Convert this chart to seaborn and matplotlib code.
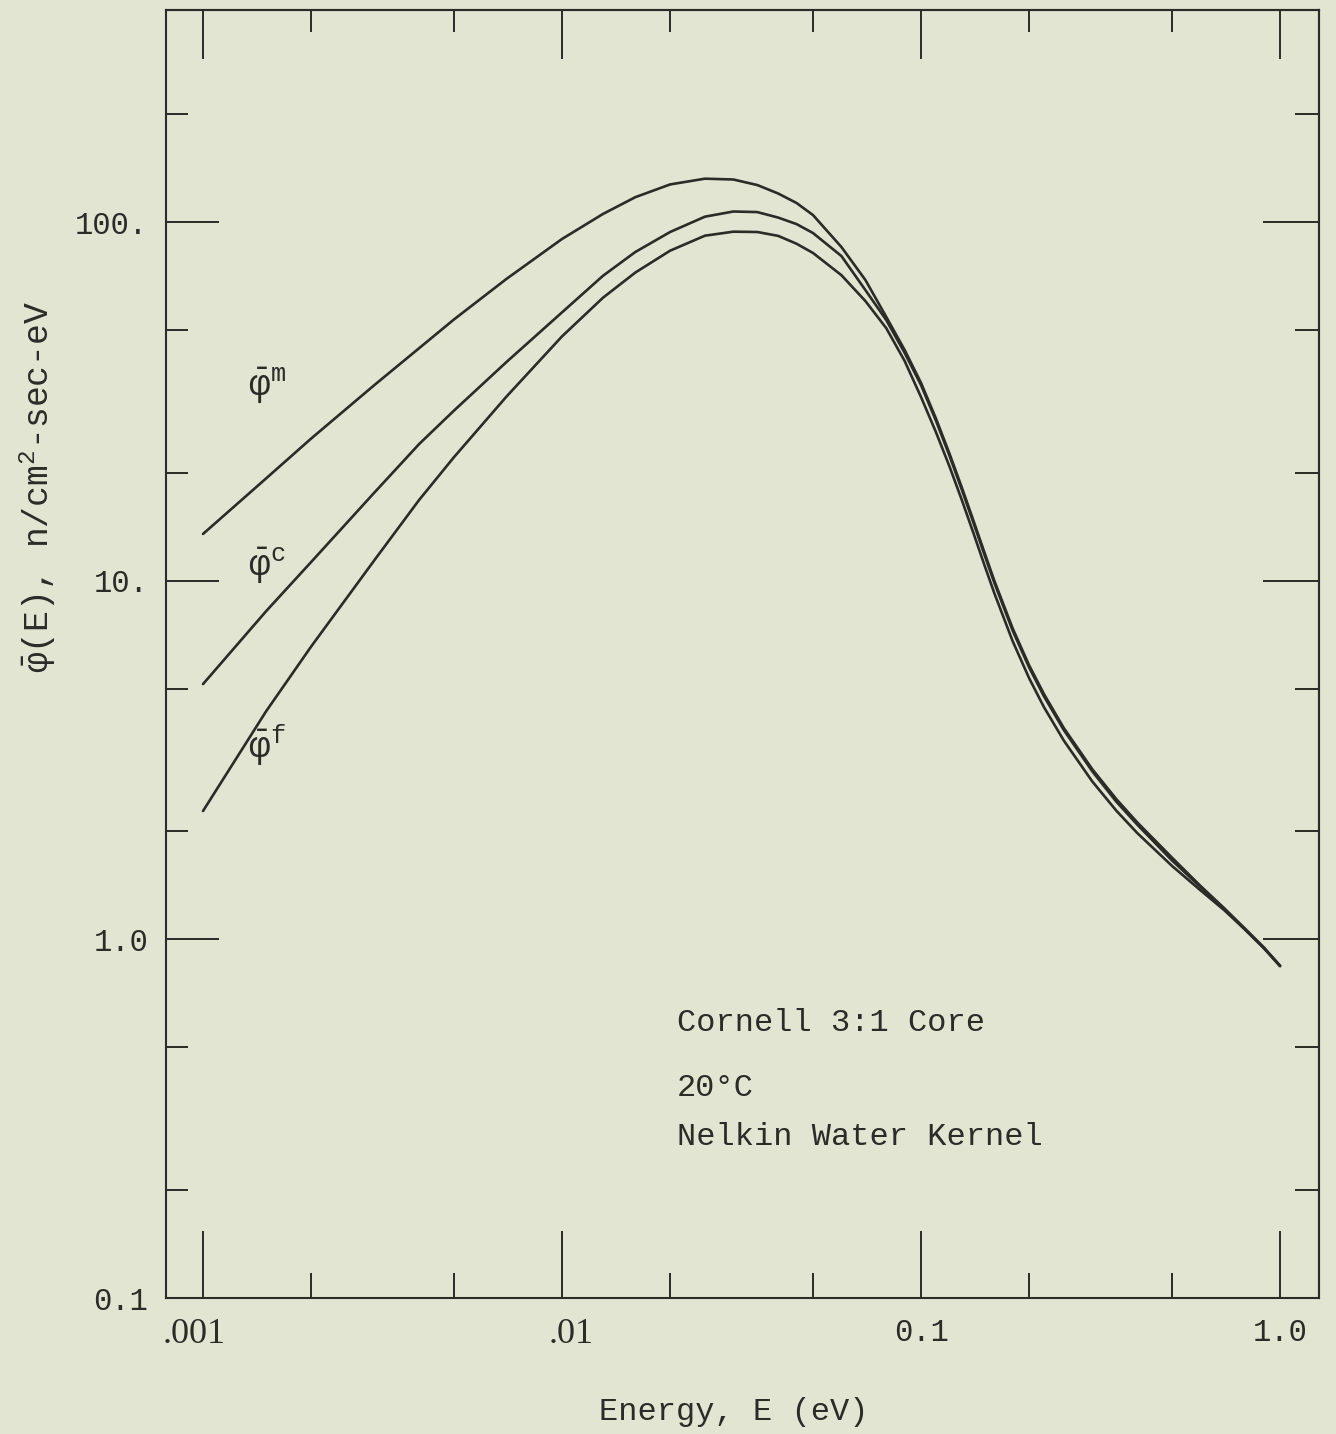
import numpy as np
import pandas as pd
import matplotlib
matplotlib.use("Agg")
import matplotlib.pyplot as plt
from matplotlib.ticker import NullFormatter
from matplotlib.transforms import ScaledTranslation
import seaborn as sns

# ---------------- data ----------------
energy = [0.001, 0.0015, 0.002, 0.003, 0.004, 0.005, 0.007, 0.01, 0.013, 0.016,
          0.02, 0.025, 0.03, 0.035, 0.04, 0.045, 0.05, 0.06, 0.07, 0.08, 0.09,
          0.1, 0.11, 0.12, 0.13, 0.14, 0.15, 0.16, 0.18, 0.2, 0.22, 0.25,
          0.3, 0.35, 0.4, 0.5, 0.6, 0.7, 0.8, 0.9, 1.0]

phi_m = [13.5, 19.3, 24.9, 35.1, 44.5, 53.5, 69.4, 89.7, 105.3, 117.3,
         127.3, 132.1, 131.4, 126.8, 120.1, 113.0, 104.6, 85.2, 68.9, 54.4, 44.0,
         35.6, 28.35, 22.62, 18.15, 14.69, 12.03, 10.0, 7.36, 5.81, 4.83, 3.88,
         2.98, 2.46, 2.12, 1.69, 1.41, 1.22, 1.07, 0.951, 0.845]

phi_c = [5.15, 8.23, 11.27, 17.6, 24.05, 29.8, 40.7, 56.0, 70.8, 82.5,
         93.8, 103.5, 107.0, 106.6, 102.9, 98.7, 93.2, 80.4, 64.6, 53.3, 43.2,
         35.1, 27.96, 22.32, 17.9, 14.49, 11.86, 9.87, 7.26, 5.73, 4.76, 3.83,
         2.94, 2.42, 2.09, 1.66, 1.40, 1.21, 1.063, 0.946, 0.843]

phi_f = [2.28, 4.33, 6.55, 11.4, 16.8, 22.1, 32.6, 48.0, 61.5, 72.3,
         83.2, 91.6, 94.0, 93.8, 91.5, 87.0, 82.0, 71.1, 60.2, 50.6, 41.0,
         32.5, 25.97, 20.83, 16.75, 13.56, 11.09, 9.23, 6.78, 5.35, 4.44, 3.58,
         2.755, 2.284, 1.98, 1.603, 1.371, 1.205, 1.065, 0.949, 0.842]

curve_names = ["m", "c", "f"]

x_major = [0.001, 0.01, 0.1, 1.0]
x_major_labels = [".001", ".01", "0.1", "1.0"]
x_minor = [0.002, 0.005, 0.02, 0.05, 0.2, 0.5]
y_major = [0.1, 1.0, 10.0, 100.0]
y_major_labels = ["0.1", "1.0", "10.", "100."]
y_minor = [0.2, 0.5, 2, 5, 20, 50, 200]

x_label = "Energy, E (eV)"
y_label = r"$\bar{\varphi}$(E), n/cm$^{2}$-sec-eV"
notes = ["Cornell 3:1 Core", "20°C", "Nelkin Water Kernel"]

# ---------------- styling ----------------
BG = "#e3e5d3"
INK = "#2b2b27"

sns.set_theme(style="white")
plt.rcParams["font.family"] = ["Liberation Mono", "DejaVu Sans"]
plt.rcParams["mathtext.fontset"] = "custom"
plt.rcParams["mathtext.rm"] = "Liberation Mono"
plt.rcParams["mathtext.it"] = "Liberation Mono"
plt.rcParams["mathtext.bf"] = "Liberation Mono:bold"
plt.rcParams["text.color"] = INK
plt.rcParams["axes.labelcolor"] = INK
plt.rcParams["xtick.color"] = INK
plt.rcParams["ytick.color"] = INK

df = pd.concat([
    pd.DataFrame({"E": energy, "phi": vals, "curve": name})
    for name, vals in zip(curve_names, [phi_m, phi_c, phi_f])
], ignore_index=True)

fig = plt.figure(figsize=(13.36, 14.34), dpi=100, facecolor=BG)
ax = fig.add_axes([0.1243, 0.0948, 0.8630, 0.8982], facecolor=BG)
ax.set_xscale("log")
ax.set_yscale("log")

sns.lineplot(data=df, x="E", y="phi", units="curve", estimator=None,
             color=INK, linewidth=1.9, ax=ax, legend=False, sort=True)

ax.set_xlim(7.89e-4, 1.284)
ax.set_ylim(0.1, 390)

for sp in ax.spines.values():
    sp.set_color(INK)
    sp.set_linewidth(1.5)

# bottom / left ticks
ax.set_xticks(x_major, x_major_labels)
ax.set_xticks(x_minor, minor=True)
ax.xaxis.set_minor_formatter(NullFormatter())
ax.set_yticks(y_major, y_major_labels)
ax.set_yticks(y_minor, minor=True)
ax.yaxis.set_minor_formatter(NullFormatter())

ax.tick_params(axis="x", which="major", direction="in", length=48, width=1.4,
               pad=14, labelsize=22, bottom=True, top=False)
ax.tick_params(axis="x", which="minor", direction="in", length=18, width=1.4,
               bottom=True, top=False)
ax.tick_params(axis="y", which="major", direction="in", length=38, width=1.4,
               pad=13, labelsize=22, left=True, right=False)
ax.tick_params(axis="y", which="minor", direction="in", length=16, width=1.4,
               left=True, right=False)

# top / right ticks (shorter)
secx = ax.secondary_xaxis("top")
secx.set_xticks(x_major)
secx.set_xticks(x_minor, minor=True)
secx.tick_params(which="major", direction="in", length=35, width=1.4, labeltop=False)
secx.tick_params(which="minor", direction="in", length=16, width=1.4, labeltop=False)
secx.xaxis.set_major_formatter(NullFormatter())
secx.xaxis.set_minor_formatter(NullFormatter())
secx.spines["top"].set_color(INK)
secx.spines["top"].set_linewidth(1.5)

secy = ax.secondary_yaxis("right")
secy.set_yticks(y_major)
secy.set_yticks(y_minor, minor=True)
secy.tick_params(which="major", direction="in", length=40, width=1.4, labelright=False)
secy.tick_params(which="minor", direction="in", length=17, width=1.4, labelright=False)
secy.yaxis.set_major_formatter(NullFormatter())
secy.yaxis.set_minor_formatter(NullFormatter())
secy.spines["right"].set_color(INK)
secy.spines["right"].set_linewidth(1.5)

# serif labels for the two leading-dot values, nudged as in the original
label_shift_px = {".001": -9, ".01": 9}
for lbl in ax.get_xticklabels():
    txt = lbl.get_text()
    if txt.startswith("."):
        lbl.set_fontfamily(["Liberation Serif", "DejaVu Serif"])
        lbl.set_fontsize(26)
        lbl.set_transform(lbl.get_transform() +
                          ScaledTranslation(label_shift_px[txt] / fig.dpi, 0,
                                            fig.dpi_scale_trans))

# axis labels
ax.set_xlabel(x_label, fontsize=23)
ax.xaxis.label.set_va("center")
ax.xaxis.set_label_coords(0.492, -0.0885)
ax.set_ylabel(y_label, fontsize=25)
ax.yaxis.label.set_va("center")
ax.yaxis.set_label_coords(-0.111, 0.630)

# curve labels
curve_label_pos = {"m": 0.709, "c": 0.569, "f": 0.429}
for name in curve_names:
    ax.text(0.071, curve_label_pos[name], r"$\bar{\varphi}^{\mathrm{%s}}$" % name,
            transform=ax.transAxes, fontsize=26, va="center", ha="left", color=INK)

# notes
for txt, yy in zip(notes, [0.2135, 0.163, 0.125]):
    ax.text(0.4432, yy, txt, transform=ax.transAxes, fontsize=23,
            va="center", ha="left", color=INK)

fig.savefig("out.png", dpi=100, facecolor=BG)
